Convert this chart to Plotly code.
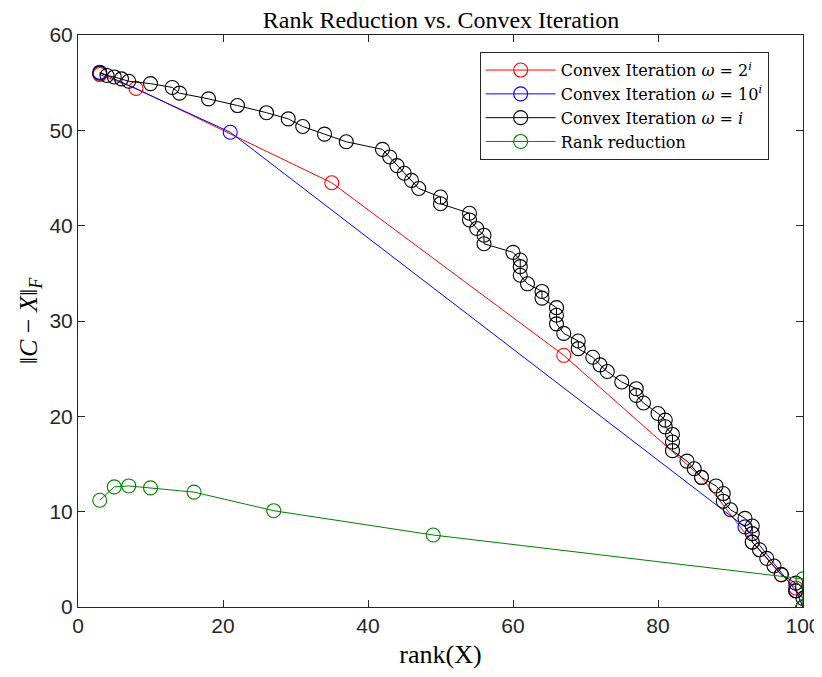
import plotly.graph_objects as go

# ---- data ----
red_x = [3, 8, 35, 67, 86, 93, 97, 99, 100]
red_y = [55.85, 54.4, 44.5, 26.4, 13.6, 6.8, 3.4, 2.0, 0.0]

blue_x = [3, 21, 92, 99, 100]
blue_y = [56.1, 49.8, 8.4, 1.7, 0.0]

black_x = [3, 4, 5, 6, 7, 10, 13, 14, 18, 22, 26, 29, 31, 34, 37,
           42, 43, 44, 45, 46, 47, 50, 50, 54, 54, 55, 56, 56, 60, 61,
           61, 61, 62, 64, 64, 66, 66, 66, 67, 69, 69, 71, 72, 73, 75,
           77, 77, 78, 80, 81, 81, 82, 82, 82, 84, 85, 86, 88, 89, 89,
           90, 92, 93, 93, 93, 94, 95, 96, 97, 99, 99, 100, 100]
black_y = [56.0, 55.75, 55.6, 55.4, 55.15, 54.9, 54.5, 53.9, 53.3, 52.6, 51.85, 51.2, 50.4, 49.6, 48.8,
           48.0, 47.2, 46.3, 45.5, 44.75, 43.9, 43.0, 42.3, 41.3, 40.6, 39.7, 39.0, 38.1, 37.2, 36.4,
           35.7, 34.8, 33.9, 33.1, 32.4, 31.4, 30.6, 29.7, 28.7, 27.9, 27.1, 26.2, 25.4, 24.7, 23.6,
           22.9, 22.2, 21.4, 20.3, 19.6, 18.9, 18.1, 17.3, 16.4, 15.3, 14.5, 13.6, 12.7, 11.9, 11.1,
           10.2, 9.3, 8.5, 7.7, 6.8, 6.0, 5.1, 4.3, 3.4, 2.5, 1.7, 0.9, 0.0]

green_x = [3, 5, 7, 10, 16, 27, 49, 100, 100]
green_y = [11.2, 12.6, 12.7, 12.5, 12.05, 10.1, 7.55, 2.95, 0.0]

x_ticks = [0, 20, 40, 60, 80, 100]
y_ticks = [0, 10, 20, 30, 40, 50, 60]

names = [
    "Convex Iteration <i>ω</i> = 2<sup><i>i</i></sup>",
    "Convex Iteration <i>ω</i> = 10<sup><i>i</i></sup>",
    "Convex Iteration <i>ω</i> = <i>i</i>",
    "Rank reduction",
]

SERIF = "Liberation Serif, DejaVu Serif, serif"
LEGSERIF = "DejaVu Serif, Liberation Serif, serif"
SANS = "Liberation Sans, Arial, sans-serif"
AX = "#262626"

fig = go.Figure()
series = [(red_x, red_y, "#ff0000"), (blue_x, blue_y, "#0000ff"),
          (black_x, black_y, "#000000"), (green_x, green_y, "#008000")]
for (xs, ys, c), nm in zip(series, names):
    fig.add_trace(go.Scatter(
        x=xs, y=ys, mode="lines+markers", name=nm,
        line=dict(color=c, width=1),
        marker=dict(symbol="circle-open", size=14, color=c, line=dict(width=1.1, color=c)),
    ))

fig.update_layout(
    width=814, height=661,
    margin=dict(l=70, r=19, t=27, b=62, autoexpand=False),
    paper_bgcolor="white", plot_bgcolor="white",
    title=dict(text="Rank Reduction vs. Convex Iteration", x=0.532, xanchor="center",
               y=0.983, yanchor="middle", font=dict(family=SERIF, size=24, color="#000")),
    showlegend=True,
    legend=dict(x=0.554, y=0.97, xanchor="left", yanchor="top",
                bgcolor="white", bordercolor=AX, borderwidth=1,
                font=dict(family=LEGSERIF, size=16, color="#000"),
                itemwidth=70, tracegroupgap=0),
    xaxis=dict(range=[0, 100], tickvals=x_ticks, ticktext=[str(v) for v in x_ticks],
               showgrid=False, zeroline=False, showline=True, mirror="ticks", automargin=False,
               linecolor=AX, linewidth=1, ticks="inside", ticklen=7, tickcolor=AX,
               tickfont=dict(family=SANS, size=21, color=AX),
               title=dict(text="rank(X)", font=dict(family=SERIF, size=26, color="#000"), standoff=12)),
    yaxis=dict(range=[0, 60], tickvals=y_ticks, ticktext=[str(v) for v in y_ticks],
               showgrid=False, zeroline=False, showline=True, mirror="ticks", automargin=False,
               linecolor=AX, linewidth=1, ticks="inside", ticklen=7, tickcolor=AX,
               tickfont=dict(family=SANS, size=21, color=AX),
               title=dict(text="‖<i>C</i> − <i>X</i>‖<sub><i>F</i></sub>",
                          font=dict(family=SERIF, size=26, color="#000"), standoff=4)),
)

fig.write_html("out.html")
